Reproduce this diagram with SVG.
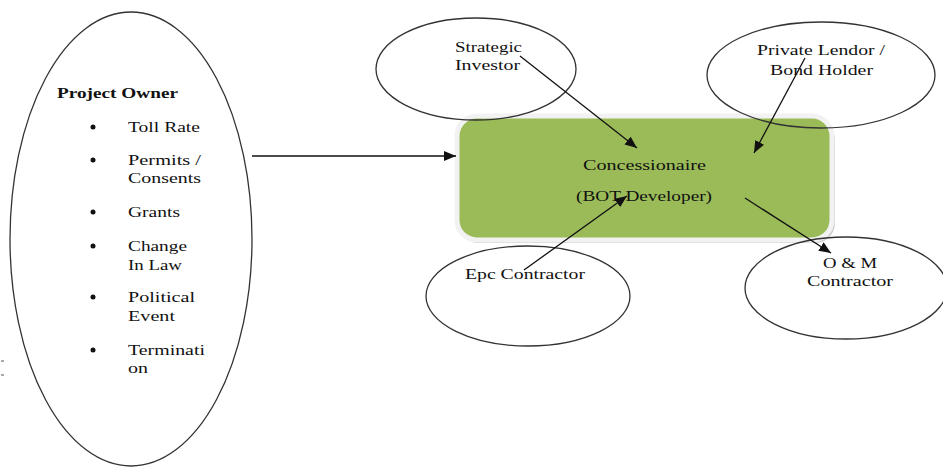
<svg xmlns="http://www.w3.org/2000/svg" width="943" height="468" viewBox="0 0 943 468">
<style>
.t{font-family:"Liberation Serif","Times New Roman",serif;font-size:15px;fill:#111}
.b{font-weight:bold}
.e{fill:none;stroke:#333;stroke-width:1.3}
.c{stroke:#111;stroke-width:1.3;fill:none;marker-end:url(#ah)}
</style>
<defs>
<marker id="ah" viewBox="0 0 12 10" refX="12" refY="5" markerWidth="12" markerHeight="10" markerUnits="userSpaceOnUse" orient="auto">
<path d="M0,0 L12,5 L0,10 z" fill="#111"/>
</marker>
</defs>
<rect width="943" height="468" fill="#fff"/>
<line x1="1" y1="361" x2="4" y2="361" stroke="#555" stroke-width="1"/>
<line x1="1" y1="375" x2="4" y2="375" stroke="#555" stroke-width="1"/>
<g id="concessionaire">
<rect x="459" y="120" width="376" height="123" rx="20" fill="#cfcfcf"/>
<rect x="457" y="116" width="375" height="124" rx="20" fill="#9BBB59" stroke="#f2f2f2" stroke-width="5"/>
<text class="t" x="583" y="170" textLength="123" lengthAdjust="spacingAndGlyphs">Concessionaire</text>
<text class="t" x="576" y="201" textLength="136" lengthAdjust="spacingAndGlyphs">(BOT Developer)</text>
</g>
<g id="project-owner">
<ellipse class="e" cx="131" cy="239" rx="121" ry="227"/>
<text class="t b" x="57" y="98" textLength="121" lengthAdjust="spacingAndGlyphs">Project Owner</text>
<g fill="#111">
<circle cx="93" cy="127" r="2.5"/>
<circle cx="93" cy="160" r="2.5"/>
<circle cx="93" cy="212" r="2.5"/>
<circle cx="93" cy="246" r="2.5"/>
<circle cx="93" cy="297" r="2.5"/>
<circle cx="93" cy="350" r="2.5"/>
</g>
<text class="t" x="128" y="132" textLength="72" lengthAdjust="spacingAndGlyphs">Toll Rate</text>
<text class="t" x="128" y="165" textLength="73" lengthAdjust="spacingAndGlyphs">Permits /</text>
<text class="t" x="128" y="183" textLength="73" lengthAdjust="spacingAndGlyphs">Consents</text>
<text class="t" x="128" y="217" textLength="52" lengthAdjust="spacingAndGlyphs">Grants</text>
<text class="t" x="128" y="251" textLength="59" lengthAdjust="spacingAndGlyphs">Change</text>
<text class="t" x="128" y="270" textLength="54" lengthAdjust="spacingAndGlyphs">In Law</text>
<text class="t" x="128" y="302" textLength="67" lengthAdjust="spacingAndGlyphs">Political</text>
<text class="t" x="128" y="321" textLength="47" lengthAdjust="spacingAndGlyphs">Event</text>
<text class="t" x="128" y="355" textLength="77" lengthAdjust="spacingAndGlyphs">Terminati</text>
<text class="t" x="128" y="373" textLength="20" lengthAdjust="spacingAndGlyphs">on</text>
</g>
<g id="strategic-investor">
<ellipse class="e" cx="476" cy="69" rx="100" ry="51"/>
<text class="t" x="455" y="52" textLength="67" lengthAdjust="spacingAndGlyphs">Strategic</text>
<text class="t" x="455" y="70" textLength="65" lengthAdjust="spacingAndGlyphs">Investor</text>
</g>
<g id="private-lendor">
<ellipse class="e" cx="821" cy="75" rx="114" ry="53"/>
<text class="t" x="757" y="55" textLength="128" lengthAdjust="spacingAndGlyphs">Private Lendor /</text>
<text class="t" x="770" y="75" textLength="103" lengthAdjust="spacingAndGlyphs">Bond Holder</text>
</g>
<g id="epc-contractor">
<ellipse class="e" cx="528" cy="296" rx="102" ry="50"/>
<text class="t" x="465" y="279" textLength="120" lengthAdjust="spacingAndGlyphs">Epc Contractor</text>
</g>
<g id="om-contractor">
<ellipse class="e" cx="846" cy="288" rx="101" ry="51"/>
<text class="t" x="823" y="268" textLength="54" lengthAdjust="spacingAndGlyphs">O &amp; M</text>
<text class="t" x="807" y="286" textLength="86" lengthAdjust="spacingAndGlyphs">Contractor</text>
</g>
<g id="connectors">
<line class="c" x1="252" y1="156" x2="456" y2="156"/>
<line class="c" x1="520" y1="56" x2="637" y2="148"/>
<line class="c" x1="805" y1="58" x2="754" y2="153"/>
<line class="c" x1="524" y1="270" x2="627" y2="196"/>
<line class="c" x1="745" y1="198" x2="831" y2="253"/>
</g>
</svg>
